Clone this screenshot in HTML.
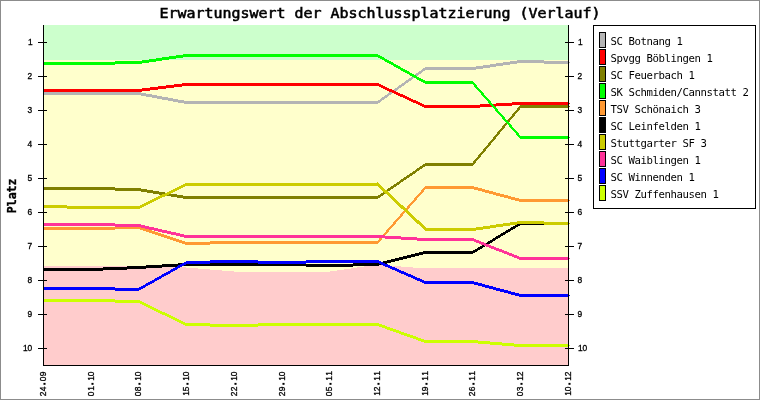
<!DOCTYPE html>
<html lang="de"><head><meta charset="utf-8"><title>Erwartungswert der Abschlussplatzierung (Verlauf)</title>
<style>
html,body{margin:0;padding:0;background:#fff}
svg{display:block}
.m{font-family:"DejaVu Sans Mono","Liberation Mono",monospace}
.t{font-weight:normal;font-size:13.7px;stroke:#000;stroke-width:.55px}
.l{font-size:10.67px;letter-spacing:-0.42px}
.k{font-family:"Liberation Sans","DejaVu Sans",sans-serif;font-size:8.4px;stroke:#000;stroke-width:.3px}
.d{stroke-width:1.1px;stroke-linejoin:miter}
.p{font-weight:bold;font-size:11.6px;stroke:#000;stroke-width:.35px}
</style></head><body>
<svg width="760" height="400" viewBox="0 0 760 400">
<g shape-rendering="crispEdges">
<rect x="0" y="0" width="760" height="400" fill="#fff"/>
<rect x="0.5" y="0.5" width="759" height="399" fill="none" stroke="#8c8c8c" stroke-width="1"/>
<rect x="44" y="25" width="525" height="35" fill="#ccffcc"/>
<rect x="44" y="60" width="525" height="305" fill="#ffcccc"/>
<path d="M43 60h95V266h-95zM138 60h48V267h-48zM186 60h12V268h-12zM198 60h12V269h-12zM210 60h12V270h-12zM222 60h12V271h-12zM234 60h96V272h-96zM330 60h7V271h-7zM337 60h7V270h-7zM344 60h7V269h-7zM351 60h6V268h-6zM357 60h7V267h-7zM364 60h7V266h-7zM371 60h18V265h-18zM389 60h12V266h-12zM401 60h12V267h-12zM413 60h156V268h-156z" fill="#ffffcc"/>
<path d="M43 92h49v3h-49zM91 92h48v3h-48zM138 92h3v3h-3zM141 93h5v3h-5zM146 94h6v3h-6zM152 95h5v3h-5zM157 96h5v3h-5zM162 97h6v3h-6zM168 98h5v3h-5zM173 99h5v3h-5zM178 100h6v3h-6zM184 101h3v3h-3zM186 101h49v3h-49zM234 101h49v3h-49zM282 101h48v3h-48zM329 101h49v3h-49zM377 101h1v3h-1zM378 100h2v3h-2zM380 99h1v3h-1zM381 98h1v3h-1zM382 97h2v3h-2zM384 96h1v3h-1zM385 95h2v3h-2zM387 94h1v3h-1zM388 93h1v3h-1zM389 92h2v3h-2zM391 91h1v3h-1zM392 90h2v3h-2zM394 89h1v3h-1zM395 88h2v3h-2zM397 87h1v3h-1zM398 86h1v3h-1zM399 85h2v3h-2zM401 84h1v3h-1zM402 83h2v3h-2zM404 82h1v3h-1zM405 81h1v3h-1zM406 80h2v3h-2zM408 79h1v3h-1zM409 78h2v3h-2zM411 77h1v3h-1zM412 76h1v3h-1zM413 75h2v3h-2zM415 74h1v3h-1zM416 73h2v3h-2zM418 72h1v3h-1zM419 71h2v3h-2zM421 70h1v3h-1zM422 69h1v3h-1zM423 68h2v3h-2zM425 67h1v3h-1zM425 67h48v3h-48zM472 67h4v3h-4zM476 66h7v3h-7zM483 65h7v3h-7zM490 64h6v3h-6zM496 63h7v3h-7zM503 62h7v3h-7zM510 61h7v3h-7zM517 60h4v3h-4zM520 60h24v3h-24zM544 61h25v3h-25z" fill="#b4b4b4"/>
<path d="M43 89h49v3h-49zM91 89h48v3h-48zM138 89h4v3h-4zM142 88h8v3h-8zM150 87h8v3h-8zM158 86h8v3h-8zM166 85h8v3h-8zM174 84h8v3h-8zM182 83h5v3h-5zM186 83h49v3h-49zM234 83h49v3h-49zM282 83h48v3h-48zM329 83h49v3h-49zM377 83h2v3h-2zM379 84h2v3h-2zM381 85h2v3h-2zM383 86h2v3h-2zM385 87h2v3h-2zM387 88h2v3h-2zM389 89h3v3h-3zM392 90h2v3h-2zM394 91h2v3h-2zM396 92h2v3h-2zM398 93h2v3h-2zM400 94h3v3h-3zM403 95h2v3h-2zM405 96h2v3h-2zM407 97h2v3h-2zM409 98h2v3h-2zM411 99h2v3h-2zM413 100h3v3h-3zM416 101h2v3h-2zM418 102h2v3h-2zM420 103h2v3h-2zM422 104h2v3h-2zM424 105h2v3h-2zM425 105h48v3h-48zM472 105h8v3h-8zM480 104h16v3h-16zM496 103h16v3h-16zM512 102h9v3h-9zM520 102h49v3h-49z" fill="#ff0000"/>
<path d="M43 187h49v3h-49zM91 187h24v3h-24zM115 188h24v3h-24zM138 188h3v3h-3zM141 189h6v3h-6zM147 190h6v3h-6zM153 191h6v3h-6zM159 192h6v3h-6zM165 193h6v3h-6zM171 194h6v3h-6zM177 195h6v3h-6zM183 196h4v3h-4zM186 196h49v3h-49zM234 196h49v3h-49zM282 196h48v3h-48zM329 196h49v3h-49zM377 196h1v3h-1zM378 195h2v3h-2zM380 194h1v3h-1zM381 193h2v3h-2zM383 192h1v3h-1zM384 191h1v3h-1zM385 190h2v3h-2zM387 189h1v3h-1zM388 188h2v3h-2zM390 187h1v3h-1zM391 186h2v3h-2zM393 185h1v3h-1zM394 184h2v3h-2zM396 183h1v3h-1zM397 182h2v3h-2zM399 181h1v3h-1zM400 180h1v3h-1zM401 179h2v3h-2zM403 178h1v3h-1zM404 177h2v3h-2zM406 176h1v3h-1zM407 175h2v3h-2zM409 174h1v3h-1zM410 173h2v3h-2zM412 172h1v3h-1zM413 171h2v3h-2zM415 170h1v3h-1zM416 169h1v3h-1zM417 168h2v3h-2zM419 167h1v3h-1zM420 166h2v3h-2zM422 165h1v3h-1zM423 164h2v3h-2zM425 163h1v3h-1zM425 163h48v3h-48zM519 106h3v1h-3zM518 107h3v1h-3zM517 108h3v2h-3zM516 110h3v1h-3zM515 111h3v1h-3zM514 112h3v1h-3zM513 113h3v1h-3zM512 114h3v2h-3zM511 116h3v1h-3zM510 117h3v1h-3zM509 118h3v1h-3zM508 119h3v1h-3zM507 120h3v2h-3zM506 122h3v1h-3zM505 123h3v1h-3zM504 124h3v1h-3zM503 125h3v1h-3zM502 126h3v2h-3zM501 128h3v1h-3zM500 129h3v1h-3zM499 130h3v1h-3zM498 131h3v1h-3zM497 132h3v2h-3zM496 134h3v1h-3zM495 135h3v1h-3zM494 136h3v1h-3zM493 137h3v2h-3zM492 139h3v1h-3zM491 140h3v1h-3zM490 141h3v1h-3zM489 142h3v1h-3zM488 143h3v2h-3zM487 145h3v1h-3zM486 146h3v1h-3zM485 147h3v1h-3zM484 148h3v1h-3zM483 149h3v2h-3zM482 151h3v1h-3zM481 152h3v1h-3zM480 153h3v1h-3zM479 154h3v1h-3zM478 155h3v2h-3zM477 157h3v1h-3zM476 158h3v1h-3zM475 159h3v1h-3zM474 160h3v1h-3zM473 161h3v2h-3zM472 163h3v1h-3zM471 164h3v1h-3zM520 105h49v3h-49z" fill="#808000"/>
<path d="M43 62h49v3h-49zM91 62h24v3h-24zM115 61h24v3h-24zM138 61h4v3h-4zM142 60h7v3h-7zM149 59h7v3h-7zM156 58h6v3h-6zM162 57h7v3h-7zM169 56h7v3h-7zM176 55h7v3h-7zM183 54h4v3h-4zM186 54h49v3h-49zM234 54h49v3h-49zM282 54h48v3h-48zM329 54h49v3h-49zM377 54h1v3h-1zM378 55h2v3h-2zM380 56h2v3h-2zM382 57h2v3h-2zM384 58h1v3h-1zM385 59h2v3h-2zM387 60h2v3h-2zM389 61h2v3h-2zM391 62h2v3h-2zM393 63h1v3h-1zM394 64h2v3h-2zM396 65h2v3h-2zM398 66h2v3h-2zM400 67h1v3h-1zM401 68h2v3h-2zM403 69h2v3h-2zM405 70h2v3h-2zM407 71h2v3h-2zM409 72h1v3h-1zM410 73h2v3h-2zM412 74h2v3h-2zM414 75h2v3h-2zM416 76h1v3h-1zM417 77h2v3h-2zM419 78h2v3h-2zM421 79h2v3h-2zM423 80h2v3h-2zM425 81h1v3h-1zM425 81h48v3h-48zM471 82h3v1h-3zM472 83h3v1h-3zM473 84h3v1h-3zM474 85h3v2h-3zM475 87h3v1h-3zM476 88h3v1h-3zM477 89h3v1h-3zM478 90h3v1h-3zM479 91h3v1h-3zM480 92h3v1h-3zM481 93h3v2h-3zM482 95h3v1h-3zM483 96h3v1h-3zM484 97h3v1h-3zM485 98h3v1h-3zM486 99h3v1h-3zM487 100h3v1h-3zM488 101h3v2h-3zM489 103h3v1h-3zM490 104h3v1h-3zM491 105h3v1h-3zM492 106h3v1h-3zM493 107h3v1h-3zM494 108h3v1h-3zM495 109h3v2h-3zM496 111h3v1h-3zM497 112h3v1h-3zM498 113h3v1h-3zM499 114h3v1h-3zM500 115h3v1h-3zM501 116h3v1h-3zM502 117h3v2h-3zM503 119h3v1h-3zM504 120h3v1h-3zM505 121h3v1h-3zM506 122h3v1h-3zM507 123h3v1h-3zM508 124h3v1h-3zM509 125h3v2h-3zM510 127h3v1h-3zM511 128h3v1h-3zM512 129h3v1h-3zM513 130h3v1h-3zM514 131h3v1h-3zM515 132h3v1h-3zM516 133h3v2h-3zM517 135h3v1h-3zM518 136h3v1h-3zM519 137h3v1h-3zM520 136h49v3h-49z" fill="#00ff00"/>
<path d="M43 227h49v3h-49zM91 227h24v3h-24zM115 226h24v3h-24zM138 226h2v3h-2zM140 227h3v3h-3zM143 228h3v3h-3zM146 229h3v3h-3zM149 230h3v3h-3zM152 231h3v3h-3zM155 232h3v3h-3zM158 233h3v3h-3zM161 234h3v3h-3zM164 235h3v3h-3zM167 236h3v3h-3zM170 237h3v3h-3zM173 238h3v3h-3zM176 239h3v3h-3zM179 240h3v3h-3zM182 241h3v3h-3zM185 242h2v3h-2zM186 242h24v3h-24zM210 241h25v3h-25zM234 241h49v3h-49zM282 241h48v3h-48zM329 241h49v3h-49zM424 187h3v1h-3zM423 188h3v1h-3zM422 189h3v1h-3zM421 190h3v2h-3zM420 192h3v1h-3zM419 193h3v1h-3zM418 194h3v1h-3zM417 195h3v1h-3zM416 196h3v1h-3zM415 197h3v1h-3zM414 198h3v2h-3zM413 200h3v1h-3zM412 201h3v1h-3zM411 202h3v1h-3zM410 203h3v1h-3zM409 204h3v1h-3zM408 205h3v1h-3zM407 206h3v2h-3zM406 208h3v1h-3zM405 209h3v1h-3zM404 210h3v1h-3zM403 211h3v1h-3zM402 212h3v1h-3zM401 213h3v1h-3zM400 214h3v2h-3zM399 216h3v1h-3zM398 217h3v1h-3zM397 218h3v1h-3zM396 219h3v1h-3zM395 220h3v1h-3zM394 221h3v1h-3zM393 222h3v2h-3zM392 224h3v1h-3zM391 225h3v1h-3zM390 226h3v1h-3zM389 227h3v1h-3zM388 228h3v1h-3zM387 229h3v1h-3zM386 230h3v2h-3zM385 232h3v1h-3zM384 233h3v1h-3zM383 234h3v1h-3zM382 235h3v1h-3zM381 236h3v1h-3zM380 237h3v1h-3zM379 238h3v2h-3zM378 240h3v1h-3zM377 241h3v1h-3zM376 242h3v1h-3zM425 186h48v3h-48zM472 186h2v3h-2zM474 187h4v3h-4zM478 188h4v3h-4zM482 189h3v3h-3zM485 190h4v3h-4zM489 191h4v3h-4zM493 192h3v3h-3zM496 193h4v3h-4zM500 194h4v3h-4zM504 195h4v3h-4zM508 196h3v3h-3zM511 197h4v3h-4zM515 198h4v3h-4zM519 199h2v3h-2zM520 199h49v3h-49z" fill="#ff9933"/>
<path d="M43 268h49v3h-49zM91 268h12v3h-12zM103 267h24v3h-24zM127 266h12v3h-12zM138 266h8v3h-8zM146 265h16v3h-16zM162 264h16v3h-16zM178 263h9v3h-9zM186 263h49v3h-49zM234 263h49v3h-49zM282 263h24v3h-24zM306 264h24v3h-24zM329 264h24v3h-24zM353 263h25v3h-25zM377 263h2v3h-2zM379 262h4v3h-4zM383 261h4v3h-4zM387 260h4v3h-4zM391 259h4v3h-4zM395 258h4v3h-4zM399 257h4v3h-4zM403 256h4v3h-4zM407 255h4v3h-4zM411 254h4v3h-4zM415 253h4v3h-4zM419 252h4v3h-4zM423 251h3v3h-3zM425 251h48v3h-48zM472 251h1v3h-1zM473 250h2v3h-2zM475 249h2v3h-2zM477 248h1v3h-1zM478 247h2v3h-2zM480 246h2v3h-2zM482 245h1v3h-1zM483 244h2v3h-2zM485 243h2v3h-2zM487 242h1v3h-1zM488 241h2v3h-2zM490 240h2v3h-2zM492 239h1v3h-1zM493 238h2v3h-2zM495 237h1v3h-1zM496 236h2v3h-2zM498 235h2v3h-2zM500 234h1v3h-1zM501 233h2v3h-2zM503 232h2v3h-2zM505 231h1v3h-1zM506 230h2v3h-2zM508 229h2v3h-2zM510 228h1v3h-1zM511 227h2v3h-2zM513 226h2v3h-2zM515 225h1v3h-1zM516 224h2v3h-2zM518 223h2v3h-2zM520 222h1v3h-1zM520 222h49v3h-49z" fill="#000000"/>
<path d="M43 205h24v3h-24zM67 206h25v3h-25zM91 206h48v3h-48zM138 206h2v3h-2zM140 205h2v3h-2zM142 204h2v3h-2zM144 203h2v3h-2zM146 202h2v3h-2zM148 201h2v3h-2zM150 200h2v3h-2zM152 199h2v3h-2zM154 198h2v3h-2zM156 197h2v3h-2zM158 196h2v3h-2zM160 195h2v3h-2zM162 194h3v3h-3zM165 193h2v3h-2zM167 192h2v3h-2zM169 191h2v3h-2zM171 190h2v3h-2zM173 189h2v3h-2zM175 188h2v3h-2zM177 187h2v3h-2zM179 186h2v3h-2zM181 185h2v3h-2zM183 184h2v3h-2zM185 183h2v3h-2zM186 183h49v3h-49zM234 183h49v3h-49zM282 183h48v3h-48zM329 183h49v3h-49zM377 182h1v4h-1zM378 183h1v4h-1zM379 184h1v4h-1zM380 185h1v4h-1zM381 186h1v4h-1zM382 187h1v4h-1zM383 188h1v4h-1zM384 189h1v4h-1zM385 190h2v4h-2zM387 191h1v4h-1zM388 192h1v4h-1zM389 193h1v4h-1zM390 194h1v4h-1zM391 195h1v4h-1zM392 196h1v4h-1zM393 197h1v4h-1zM394 198h1v4h-1zM395 199h1v4h-1zM396 200h1v4h-1zM397 201h1v4h-1zM398 202h1v4h-1zM399 203h1v4h-1zM400 204h1v4h-1zM401 205h2v4h-2zM403 206h1v4h-1zM404 207h1v4h-1zM405 208h1v4h-1zM406 209h1v4h-1zM407 210h1v4h-1zM408 211h1v4h-1zM409 212h1v4h-1zM410 213h1v4h-1zM411 214h1v4h-1zM412 215h1v4h-1zM413 216h1v4h-1zM414 217h1v4h-1zM415 218h1v4h-1zM416 219h1v4h-1zM417 220h2v4h-2zM419 221h1v4h-1zM420 222h1v4h-1zM421 223h1v4h-1zM422 224h1v4h-1zM423 225h1v4h-1zM424 226h1v4h-1zM425 227h1v4h-1zM425 228h48v3h-48zM472 228h4v3h-4zM476 227h7v3h-7zM483 226h7v3h-7zM490 225h6v3h-6zM496 224h7v3h-7zM503 223h7v3h-7zM510 222h7v3h-7zM517 221h4v3h-4zM520 221h24v3h-24zM544 222h25v3h-25z" fill="#cccc00"/>
<path d="M43 223h49v3h-49zM91 223h24v3h-24zM115 224h24v3h-24zM138 224h3v3h-3zM141 225h4v3h-4zM145 226h4v3h-4zM149 227h5v3h-5zM154 228h4v3h-4zM158 229h4v3h-4zM162 230h5v3h-5zM167 231h4v3h-4zM171 232h5v3h-5zM176 233h4v3h-4zM180 234h4v3h-4zM184 235h3v3h-3zM186 235h49v3h-49zM234 235h49v3h-49zM282 235h48v3h-48zM329 235h49v3h-49zM377 235h8v3h-8zM385 236h16v3h-16zM401 237h16v3h-16zM417 238h9v3h-9zM425 238h48v3h-48zM472 238h2v3h-2zM474 239h2v3h-2zM476 240h3v3h-3zM479 241h2v3h-2zM481 242h3v3h-3zM484 243h2v3h-2zM486 244h3v3h-3zM489 245h2v3h-2zM491 246h3v3h-3zM494 247h2v3h-2zM496 248h3v3h-3zM499 249h3v3h-3zM502 250h2v3h-2zM504 251h3v3h-3zM507 252h2v3h-2zM509 253h3v3h-3zM512 254h2v3h-2zM514 255h3v3h-3zM517 256h2v3h-2zM519 257h2v3h-2zM520 257h49v3h-49z" fill="#ff3399"/>
<path d="M43 287h49v3h-49zM91 287h24v3h-24zM115 288h24v3h-24zM138 288h1v3h-1zM139 287h2v3h-2zM141 286h2v3h-2zM143 285h2v3h-2zM145 284h1v3h-1zM146 283h2v3h-2zM148 282h2v3h-2zM150 281h2v3h-2zM152 280h2v3h-2zM154 279h1v3h-1zM155 278h2v3h-2zM157 277h2v3h-2zM159 276h2v3h-2zM161 275h1v3h-1zM162 274h2v3h-2zM164 273h2v3h-2zM166 272h2v3h-2zM168 271h2v3h-2zM170 270h1v3h-1zM171 269h2v3h-2zM173 268h2v3h-2zM175 267h2v3h-2zM177 266h1v3h-1zM178 265h2v3h-2zM180 264h2v3h-2zM182 263h2v3h-2zM184 262h2v3h-2zM186 261h1v3h-1zM186 261h24v3h-24zM210 260h25v3h-25zM234 260h24v3h-24zM258 261h25v3h-25zM282 261h24v3h-24zM306 260h24v3h-24zM329 260h49v3h-49zM377 260h2v3h-2zM379 261h2v3h-2zM381 262h2v3h-2zM383 263h2v3h-2zM385 264h3v3h-3zM388 265h2v3h-2zM390 266h2v3h-2zM392 267h3v3h-3zM395 268h2v3h-2zM397 269h2v3h-2zM399 270h2v3h-2zM401 271h3v3h-3zM404 272h2v3h-2zM406 273h2v3h-2zM408 274h3v3h-3zM411 275h2v3h-2zM413 276h2v3h-2zM415 277h2v3h-2zM417 278h3v3h-3zM420 279h2v3h-2zM422 280h2v3h-2zM424 281h2v3h-2zM425 281h48v3h-48zM472 281h2v3h-2zM474 282h4v3h-4zM478 283h4v3h-4zM482 284h3v3h-3zM485 285h4v3h-4zM489 286h4v3h-4zM493 287h3v3h-3zM496 288h4v3h-4zM500 289h4v3h-4zM504 290h4v3h-4zM508 291h3v3h-3zM511 292h4v3h-4zM515 293h4v3h-4zM519 294h2v3h-2zM520 294h49v3h-49z" fill="#0000ff"/>
<path d="M43 299h49v3h-49zM91 299h24v3h-24zM115 300h24v3h-24zM138 300h2v3h-2zM140 301h2v3h-2zM142 302h2v3h-2zM144 303h2v3h-2zM146 304h2v3h-2zM148 305h2v3h-2zM150 306h2v3h-2zM152 307h2v3h-2zM154 308h2v3h-2zM156 309h2v3h-2zM158 310h2v3h-2zM160 311h2v3h-2zM162 312h3v3h-3zM165 313h2v3h-2zM167 314h2v3h-2zM169 315h2v3h-2zM171 316h2v3h-2zM173 317h2v3h-2zM175 318h2v3h-2zM177 319h2v3h-2zM179 320h2v3h-2zM181 321h2v3h-2zM183 322h2v3h-2zM185 323h2v3h-2zM186 323h24v3h-24zM210 324h25v3h-25zM234 324h24v3h-24zM258 323h25v3h-25zM282 323h48v3h-48zM329 323h49v3h-49zM377 323h2v3h-2zM379 324h3v3h-3zM382 325h3v3h-3zM385 326h2v3h-2zM387 327h3v3h-3zM390 328h3v3h-3zM393 329h3v3h-3zM396 330h3v3h-3zM399 331h2v3h-2zM401 332h3v3h-3zM404 333h3v3h-3zM407 334h3v3h-3zM410 335h3v3h-3zM413 336h3v3h-3zM416 337h2v3h-2zM418 338h3v3h-3zM421 339h3v3h-3zM424 340h2v3h-2zM425 340h48v3h-48zM472 340h6v3h-6zM478 341h12v3h-12zM490 342h12v3h-12zM502 343h12v3h-12zM514 344h7v3h-7zM520 344h49v3h-49z" fill="#ccff00"/>
<rect x="1" y="25" width="42" height="341" fill="#fff"/>
<rect x="43" y="25" width="1" height="341" fill="#000"/>
<rect x="568" y="25" width="1" height="341" fill="#000"/>
<rect x="43" y="365" width="526" height="1" fill="#000"/>
<rect x="38" y="42" width="9" height="1" fill="#000"/>
<rect x="565" y="42" width="9" height="1" fill="#000"/>
<rect x="38" y="76" width="9" height="1" fill="#000"/>
<rect x="565" y="76" width="9" height="1" fill="#000"/>
<rect x="38" y="110" width="9" height="1" fill="#000"/>
<rect x="565" y="110" width="9" height="1" fill="#000"/>
<rect x="38" y="144" width="9" height="1" fill="#000"/>
<rect x="565" y="144" width="9" height="1" fill="#000"/>
<rect x="38" y="178" width="9" height="1" fill="#000"/>
<rect x="565" y="178" width="9" height="1" fill="#000"/>
<rect x="38" y="212" width="9" height="1" fill="#000"/>
<rect x="565" y="212" width="9" height="1" fill="#000"/>
<rect x="38" y="246" width="9" height="1" fill="#000"/>
<rect x="565" y="246" width="9" height="1" fill="#000"/>
<rect x="38" y="280" width="9" height="1" fill="#000"/>
<rect x="565" y="280" width="9" height="1" fill="#000"/>
<rect x="38" y="314" width="9" height="1" fill="#000"/>
<rect x="565" y="314" width="9" height="1" fill="#000"/>
<rect x="38" y="348" width="9" height="1" fill="#000"/>
<rect x="565" y="348" width="9" height="1" fill="#000"/>
<rect x="569" y="62" width="1" height="1" fill="#b4b4b4"/>
<rect x="569" y="103" width="1" height="1" fill="#ff0000"/>
<rect x="569" y="106" width="1" height="1" fill="#808000"/>
<rect x="569" y="137" width="1" height="1" fill="#00ff00"/>
<rect x="569" y="200" width="1" height="1" fill="#ff9933"/>
<rect x="569" y="223" width="1" height="1" fill="#000000"/>
<rect x="569" y="223" width="1" height="1" fill="#cccc00"/>
<rect x="569" y="258" width="1" height="1" fill="#ff3399"/>
<rect x="569" y="295" width="1" height="1" fill="#0000ff"/>
<rect x="569" y="345" width="1" height="1" fill="#ccff00"/>
<rect x="593.5" y="25.5" width="162" height="183" fill="#fff" stroke="#000" stroke-width="1"/>
<rect x="599.5" y="32.5" width="6" height="15" fill="#b4b4b4" stroke="#000" stroke-width="1"/>
<rect x="599.5" y="49.5" width="6" height="15" fill="#ff0000" stroke="#000" stroke-width="1"/>
<rect x="599.5" y="66.5" width="6" height="15" fill="#808000" stroke="#000" stroke-width="1"/>
<rect x="599.5" y="83.5" width="6" height="15" fill="#00ff00" stroke="#000" stroke-width="1"/>
<rect x="599.5" y="100.5" width="6" height="15" fill="#ff9933" stroke="#000" stroke-width="1"/>
<rect x="599.5" y="117.5" width="6" height="15" fill="#000000" stroke="#000" stroke-width="1"/>
<rect x="599.5" y="134.5" width="6" height="15" fill="#cccc00" stroke="#000" stroke-width="1"/>
<rect x="599.5" y="151.5" width="6" height="15" fill="#ff3399" stroke="#000" stroke-width="1"/>
<rect x="599.5" y="168.5" width="6" height="15" fill="#0000ff" stroke="#000" stroke-width="1"/>
<rect x="599.5" y="185.5" width="6" height="15" fill="#ccff00" stroke="#000" stroke-width="1"/>
</g>
<g fill="#000" class="m">
<text class="t" x="159.5" y="18" textLength="441" lengthAdjust="spacingAndGlyphs">Erwartungswert der Abschlussplatzierung (Verlauf)</text>
<text class="l" x="610.5" y="45">SC Botnang 1</text>
<text class="l" x="610.5" y="62">Spvgg Böblingen 1</text>
<text class="l" x="610.5" y="79">SC Feuerbach 1</text>
<text class="l" x="610.5" y="96">SK Schmiden/Cannstatt 2</text>
<text class="l" x="610.5" y="113">TSV Schönaich 3</text>
<text class="l" x="610.5" y="130">SC Leinfelden 1</text>
<text class="l" x="610.5" y="147">Stuttgarter SF 3</text>
<text class="l" x="610.5" y="164">SC Waiblingen 1</text>
<text class="l" x="610.5" y="181">SC Winnenden 1</text>
<text class="l" x="610.5" y="198">SSV Zuffenhausen 1</text>
<text class="k" x="28.1" y="45">1</text>
<text class="k" x="578.1" y="45">1</text>
<text class="k" x="27.6" y="79">2</text>
<text class="k" x="577.6" y="79">2</text>
<text class="k" x="27.6" y="113">3</text>
<text class="k" x="577.6" y="113">3</text>
<text class="k" x="27.6" y="147">4</text>
<text class="k" x="577.6" y="147">4</text>
<text class="k" x="27.6" y="181">5</text>
<text class="k" x="577.6" y="181">5</text>
<text class="k" x="27.6" y="215">6</text>
<text class="k" x="577.6" y="215">6</text>
<text class="k" x="27.6" y="249">7</text>
<text class="k" x="577.6" y="249">7</text>
<text class="k" x="27.6" y="283">8</text>
<text class="k" x="577.6" y="283">8</text>
<text class="k" x="27.6" y="317">9</text>
<text class="k" x="577.6" y="317">9</text>
<text class="k" x="23.1 27.6" y="351">10</text>
<text class="k" x="578.1 582.6" y="351">10</text>
<text class="k" transform="translate(46,396.3) rotate(-90)" x="0 5 11.4 15 20" dy="0 0 -0.6 0.6 0">24<tspan class="d">.</tspan>09</text>
<text class="k" transform="translate(94,396.3) rotate(-90)" x="0 5.5 11.4 15.5 20" dy="0 0 -0.6 0.6 0">01<tspan class="d">.</tspan>10</text>
<text class="k" transform="translate(141,396.3) rotate(-90)" x="0 5 11.4 15.5 20" dy="0 0 -0.6 0.6 0">08<tspan class="d">.</tspan>10</text>
<text class="k" transform="translate(189,396.3) rotate(-90)" x="0.5 5 11.4 15.5 20" dy="0 0 -0.6 0.6 0">15<tspan class="d">.</tspan>10</text>
<text class="k" transform="translate(237,396.3) rotate(-90)" x="0 5 11.4 15.5 20" dy="0 0 -0.6 0.6 0">22<tspan class="d">.</tspan>10</text>
<text class="k" transform="translate(285,396.3) rotate(-90)" x="0 5 11.4 15.5 20" dy="0 0 -0.6 0.6 0">29<tspan class="d">.</tspan>10</text>
<text class="k" transform="translate(332,396.3) rotate(-90)" x="0 5 11.4 15.5 20.5" dy="0 0 -0.6 0.6 0">05<tspan class="d">.</tspan>11</text>
<text class="k" transform="translate(380,396.3) rotate(-90)" x="0.5 5 11.4 15.5 20.5" dy="0 0 -0.6 0.6 0">12<tspan class="d">.</tspan>11</text>
<text class="k" transform="translate(428,396.3) rotate(-90)" x="0.5 5 11.4 15.5 20.5" dy="0 0 -0.6 0.6 0">19<tspan class="d">.</tspan>11</text>
<text class="k" transform="translate(475,396.3) rotate(-90)" x="0 5 11.4 15.5 20.5" dy="0 0 -0.6 0.6 0">26<tspan class="d">.</tspan>11</text>
<text class="k" transform="translate(523,396.3) rotate(-90)" x="0 5 11.4 15.5 20" dy="0 0 -0.6 0.6 0">03<tspan class="d">.</tspan>12</text>
<text class="k" transform="translate(571,396.3) rotate(-90)" x="0.5 5 11.4 15.5 20" dy="0 0 -0.6 0.6 0">10<tspan class="d">.</tspan>12</text>
<text class="p" transform="translate(16.1,213.2) rotate(-90)" textLength="34.6" lengthAdjust="spacingAndGlyphs">Platz</text>
</g>
</svg></body></html>
